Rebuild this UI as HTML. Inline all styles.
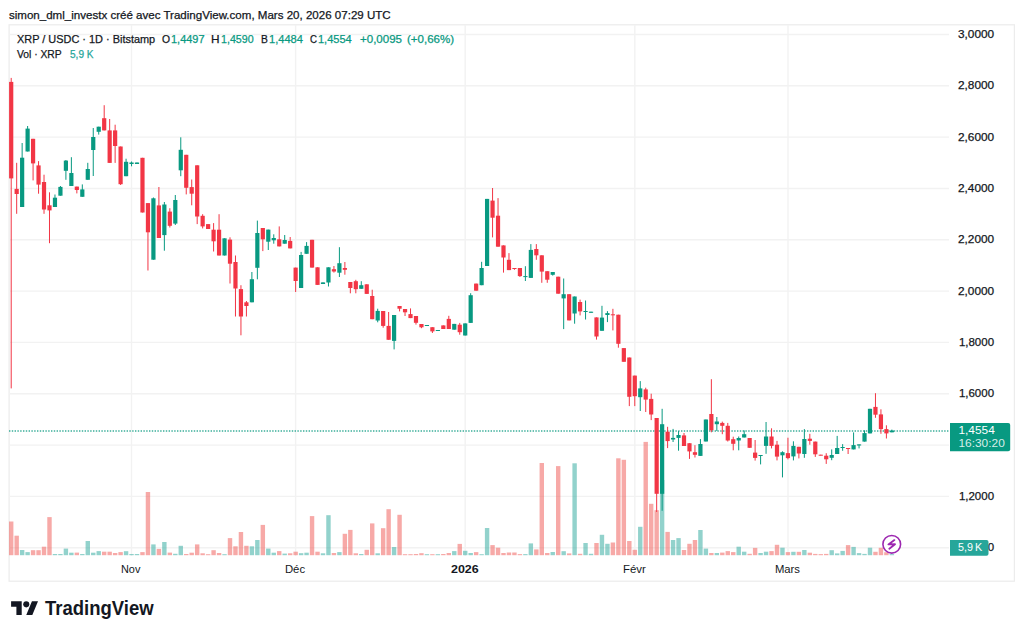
<!DOCTYPE html><html><head><meta charset="utf-8"><style>html,body{margin:0;padding:0;background:#fff;width:1024px;height:636px;overflow:hidden}svg{display:block}text{font-family:"Liberation Sans",sans-serif}</style></head><body>
<svg width="1024" height="636" viewBox="0 0 1024 636">
<rect x="0" y="0" width="1024" height="636" fill="#fff"/>
<rect x="9.1" y="24.8" width="1005.3" height="556.4" fill="none" stroke="#ECECEC" stroke-width="1.2"/>
<line x1="9" y1="34.5" x2="949" y2="34.5" stroke="#F2F2F2" stroke-width="1.4"/>
<line x1="9" y1="85.8" x2="949" y2="85.8" stroke="#F2F2F2" stroke-width="1.4"/>
<line x1="9" y1="137.1" x2="949" y2="137.1" stroke="#F2F2F2" stroke-width="1.4"/>
<line x1="9" y1="188.5" x2="949" y2="188.5" stroke="#F2F2F2" stroke-width="1.4"/>
<line x1="9" y1="239.8" x2="949" y2="239.8" stroke="#F2F2F2" stroke-width="1.4"/>
<line x1="9" y1="291.1" x2="949" y2="291.1" stroke="#F2F2F2" stroke-width="1.4"/>
<line x1="9" y1="342.4" x2="949" y2="342.4" stroke="#F2F2F2" stroke-width="1.4"/>
<line x1="9" y1="393.7" x2="949" y2="393.7" stroke="#F2F2F2" stroke-width="1.4"/>
<line x1="9" y1="445.1" x2="949" y2="445.1" stroke="#F2F2F2" stroke-width="1.4"/>
<line x1="9" y1="496.4" x2="949" y2="496.4" stroke="#F2F2F2" stroke-width="1.4"/>
<line x1="9" y1="547.7" x2="949" y2="547.7" stroke="#F2F2F2" stroke-width="1.4"/>
<line x1="131.5" y1="25" x2="131.5" y2="556" stroke="#F2F2F2" stroke-width="1.4"/>
<line x1="295.6" y1="25" x2="295.6" y2="556" stroke="#F2F2F2" stroke-width="1.4"/>
<line x1="465.2" y1="25" x2="465.2" y2="556" stroke="#F2F2F2" stroke-width="1.4"/>
<line x1="634.8" y1="25" x2="634.8" y2="556" stroke="#F2F2F2" stroke-width="1.4"/>
<line x1="788.0" y1="25" x2="788.0" y2="556" stroke="#F2F2F2" stroke-width="1.4"/>
<rect x="9.00" y="521.5" width="4.4" height="33.7" fill="rgba(239,83,80,0.5)"/>
<rect x="14.47" y="535.7" width="4.4" height="19.5" fill="rgba(239,83,80,0.5)"/>
<rect x="19.94" y="550.0" width="4.4" height="5.2" fill="rgba(38,166,154,0.5)"/>
<rect x="25.41" y="552.1" width="4.4" height="3.1" fill="rgba(38,166,154,0.5)"/>
<rect x="30.88" y="550.2" width="4.4" height="5.0" fill="rgba(239,83,80,0.5)"/>
<rect x="36.35" y="550.2" width="4.4" height="5.0" fill="rgba(239,83,80,0.5)"/>
<rect x="41.82" y="546.7" width="4.4" height="8.5" fill="rgba(239,83,80,0.5)"/>
<rect x="47.29" y="517.1" width="4.4" height="38.1" fill="rgba(239,83,80,0.5)"/>
<rect x="52.76" y="554.0" width="4.4" height="1.2" fill="rgba(38,166,154,0.5)"/>
<rect x="58.23" y="554.0" width="4.4" height="1.2" fill="rgba(38,166,154,0.5)"/>
<rect x="63.70" y="548.6" width="4.4" height="6.6" fill="rgba(38,166,154,0.5)"/>
<rect x="69.17" y="552.7" width="4.4" height="2.5" fill="rgba(38,166,154,0.5)"/>
<rect x="74.64" y="552.6" width="4.4" height="2.6" fill="rgba(239,83,80,0.5)"/>
<rect x="80.11" y="554.0" width="4.4" height="1.2" fill="rgba(38,166,154,0.5)"/>
<rect x="85.58" y="541.0" width="4.4" height="14.2" fill="rgba(38,166,154,0.5)"/>
<rect x="91.05" y="552.7" width="4.4" height="2.5" fill="rgba(38,166,154,0.5)"/>
<rect x="96.52" y="551.1" width="4.4" height="4.1" fill="rgba(38,166,154,0.5)"/>
<rect x="101.99" y="551.7" width="4.4" height="3.5" fill="rgba(239,83,80,0.5)"/>
<rect x="107.46" y="551.7" width="4.4" height="3.5" fill="rgba(239,83,80,0.5)"/>
<rect x="112.93" y="553.0" width="4.4" height="2.2" fill="rgba(239,83,80,0.5)"/>
<rect x="118.40" y="552.1" width="4.4" height="3.1" fill="rgba(239,83,80,0.5)"/>
<rect x="123.87" y="551.2" width="4.4" height="4.0" fill="rgba(38,166,154,0.5)"/>
<rect x="129.34" y="554.0" width="4.4" height="1.2" fill="rgba(38,166,154,0.5)"/>
<rect x="134.81" y="554.0" width="4.4" height="1.2" fill="rgba(38,166,154,0.5)"/>
<rect x="140.28" y="552.1" width="4.4" height="3.1" fill="rgba(239,83,80,0.5)"/>
<rect x="145.75" y="492.0" width="4.4" height="63.2" fill="rgba(239,83,80,0.5)"/>
<rect x="151.22" y="544.4" width="4.4" height="10.8" fill="rgba(38,166,154,0.5)"/>
<rect x="156.69" y="548.9" width="4.4" height="6.3" fill="rgba(239,83,80,0.5)"/>
<rect x="162.16" y="542.0" width="4.4" height="13.2" fill="rgba(38,166,154,0.5)"/>
<rect x="167.63" y="552.6" width="4.4" height="2.6" fill="rgba(239,83,80,0.5)"/>
<rect x="173.10" y="553.8" width="4.4" height="1.4" fill="rgba(38,166,154,0.5)"/>
<rect x="178.57" y="545.8" width="4.4" height="9.4" fill="rgba(38,166,154,0.5)"/>
<rect x="184.04" y="554.0" width="4.4" height="1.2" fill="rgba(239,83,80,0.5)"/>
<rect x="189.51" y="552.7" width="4.4" height="2.5" fill="rgba(239,83,80,0.5)"/>
<rect x="194.98" y="544.4" width="4.4" height="10.8" fill="rgba(239,83,80,0.5)"/>
<rect x="200.45" y="553.3" width="4.4" height="1.9" fill="rgba(239,83,80,0.5)"/>
<rect x="205.92" y="554.2" width="4.4" height="1.0" fill="rgba(239,83,80,0.5)"/>
<rect x="211.39" y="550.2" width="4.4" height="5.0" fill="rgba(239,83,80,0.5)"/>
<rect x="216.86" y="553.0" width="4.4" height="2.2" fill="rgba(239,83,80,0.5)"/>
<rect x="222.33" y="554.2" width="4.4" height="1.0" fill="rgba(38,166,154,0.5)"/>
<rect x="227.80" y="538.1" width="4.4" height="17.1" fill="rgba(239,83,80,0.5)"/>
<rect x="233.27" y="546.3" width="4.4" height="8.9" fill="rgba(239,83,80,0.5)"/>
<rect x="238.74" y="532.0" width="4.4" height="23.2" fill="rgba(239,83,80,0.5)"/>
<rect x="244.21" y="545.8" width="4.4" height="9.4" fill="rgba(239,83,80,0.5)"/>
<rect x="249.68" y="546.3" width="4.4" height="8.9" fill="rgba(38,166,154,0.5)"/>
<rect x="255.15" y="540.0" width="4.4" height="15.2" fill="rgba(38,166,154,0.5)"/>
<rect x="260.62" y="524.9" width="4.4" height="30.3" fill="rgba(239,83,80,0.5)"/>
<rect x="266.09" y="548.6" width="4.4" height="6.6" fill="rgba(38,166,154,0.5)"/>
<rect x="271.56" y="552.7" width="4.4" height="2.5" fill="rgba(38,166,154,0.5)"/>
<rect x="277.03" y="551.1" width="4.4" height="4.1" fill="rgba(239,83,80,0.5)"/>
<rect x="282.50" y="553.6" width="4.4" height="1.6" fill="rgba(38,166,154,0.5)"/>
<rect x="287.97" y="553.3" width="4.4" height="1.9" fill="rgba(239,83,80,0.5)"/>
<rect x="293.44" y="551.7" width="4.4" height="3.5" fill="rgba(239,83,80,0.5)"/>
<rect x="298.91" y="553.2" width="4.4" height="2.0" fill="rgba(38,166,154,0.5)"/>
<rect x="304.38" y="552.7" width="4.4" height="2.5" fill="rgba(38,166,154,0.5)"/>
<rect x="309.85" y="516.1" width="4.4" height="39.1" fill="rgba(239,83,80,0.5)"/>
<rect x="315.32" y="551.7" width="4.4" height="3.5" fill="rgba(239,83,80,0.5)"/>
<rect x="320.79" y="553.3" width="4.4" height="1.9" fill="rgba(38,166,154,0.5)"/>
<rect x="326.26" y="515.2" width="4.4" height="40.0" fill="rgba(38,166,154,0.5)"/>
<rect x="331.73" y="553.0" width="4.4" height="2.2" fill="rgba(239,83,80,0.5)"/>
<rect x="337.20" y="552.1" width="4.4" height="3.1" fill="rgba(38,166,154,0.5)"/>
<rect x="342.67" y="533.8" width="4.4" height="21.4" fill="rgba(239,83,80,0.5)"/>
<rect x="348.14" y="529.9" width="4.4" height="25.3" fill="rgba(239,83,80,0.5)"/>
<rect x="353.61" y="553.3" width="4.4" height="1.9" fill="rgba(239,83,80,0.5)"/>
<rect x="359.08" y="554.0" width="4.4" height="1.2" fill="rgba(38,166,154,0.5)"/>
<rect x="364.55" y="549.8" width="4.4" height="5.4" fill="rgba(239,83,80,0.5)"/>
<rect x="370.02" y="523.4" width="4.4" height="31.8" fill="rgba(239,83,80,0.5)"/>
<rect x="375.49" y="553.3" width="4.4" height="1.9" fill="rgba(38,166,154,0.5)"/>
<rect x="380.96" y="528.2" width="4.4" height="27.0" fill="rgba(239,83,80,0.5)"/>
<rect x="386.43" y="509.2" width="4.4" height="46.0" fill="rgba(239,83,80,0.5)"/>
<rect x="391.90" y="547.0" width="4.4" height="8.2" fill="rgba(38,166,154,0.5)"/>
<rect x="397.37" y="514.8" width="4.4" height="40.4" fill="rgba(239,83,80,0.5)"/>
<rect x="402.84" y="554.2" width="4.4" height="1.0" fill="rgba(239,83,80,0.5)"/>
<rect x="408.31" y="554.2" width="4.4" height="1.0" fill="rgba(239,83,80,0.5)"/>
<rect x="413.78" y="554.0" width="4.4" height="1.2" fill="rgba(239,83,80,0.5)"/>
<rect x="419.25" y="553.2" width="4.4" height="2.0" fill="rgba(239,83,80,0.5)"/>
<rect x="424.72" y="554.2" width="4.4" height="1.0" fill="rgba(38,166,154,0.5)"/>
<rect x="430.19" y="554.2" width="4.4" height="1.0" fill="rgba(239,83,80,0.5)"/>
<rect x="435.66" y="554.2" width="4.4" height="1.0" fill="rgba(38,166,154,0.5)"/>
<rect x="441.13" y="554.0" width="4.4" height="1.2" fill="rgba(239,83,80,0.5)"/>
<rect x="446.60" y="553.0" width="4.4" height="2.2" fill="rgba(239,83,80,0.5)"/>
<rect x="452.07" y="551.1" width="4.4" height="4.1" fill="rgba(38,166,154,0.5)"/>
<rect x="457.54" y="543.9" width="4.4" height="11.3" fill="rgba(239,83,80,0.5)"/>
<rect x="463.01" y="550.8" width="4.4" height="4.4" fill="rgba(38,166,154,0.5)"/>
<rect x="468.48" y="553.0" width="4.4" height="2.2" fill="rgba(38,166,154,0.5)"/>
<rect x="473.95" y="552.1" width="4.4" height="3.1" fill="rgba(239,83,80,0.5)"/>
<rect x="479.42" y="554.2" width="4.4" height="1.0" fill="rgba(38,166,154,0.5)"/>
<rect x="484.89" y="528.0" width="4.4" height="27.2" fill="rgba(38,166,154,0.5)"/>
<rect x="490.36" y="545.1" width="4.4" height="10.1" fill="rgba(239,83,80,0.5)"/>
<rect x="495.83" y="547.7" width="4.4" height="7.5" fill="rgba(239,83,80,0.5)"/>
<rect x="501.30" y="553.0" width="4.4" height="2.2" fill="rgba(239,83,80,0.5)"/>
<rect x="506.77" y="552.5" width="4.4" height="2.7" fill="rgba(239,83,80,0.5)"/>
<rect x="512.24" y="552.5" width="4.4" height="2.7" fill="rgba(239,83,80,0.5)"/>
<rect x="517.71" y="554.1" width="4.4" height="1.1" fill="rgba(239,83,80,0.5)"/>
<rect x="523.18" y="554.1" width="4.4" height="1.1" fill="rgba(38,166,154,0.5)"/>
<rect x="528.65" y="543.4" width="4.4" height="11.8" fill="rgba(38,166,154,0.5)"/>
<rect x="534.12" y="549.4" width="4.4" height="5.8" fill="rgba(239,83,80,0.5)"/>
<rect x="539.59" y="463.0" width="4.4" height="92.2" fill="rgba(239,83,80,0.5)"/>
<rect x="545.06" y="553.0" width="4.4" height="2.2" fill="rgba(239,83,80,0.5)"/>
<rect x="550.53" y="552.0" width="4.4" height="3.2" fill="rgba(38,166,154,0.5)"/>
<rect x="556.00" y="466.1" width="4.4" height="89.1" fill="rgba(239,83,80,0.5)"/>
<rect x="561.47" y="551.2" width="4.4" height="4.0" fill="rgba(38,166,154,0.5)"/>
<rect x="566.94" y="553.4" width="4.4" height="1.8" fill="rgba(239,83,80,0.5)"/>
<rect x="572.41" y="463.3" width="4.4" height="91.9" fill="rgba(38,166,154,0.5)"/>
<rect x="577.88" y="553.8" width="4.4" height="1.4" fill="rgba(239,83,80,0.5)"/>
<rect x="583.35" y="543.0" width="4.4" height="12.2" fill="rgba(38,166,154,0.5)"/>
<rect x="588.82" y="553.8" width="4.4" height="1.4" fill="rgba(38,166,154,0.5)"/>
<rect x="594.29" y="543.0" width="4.4" height="12.2" fill="rgba(239,83,80,0.5)"/>
<rect x="599.76" y="534.8" width="4.4" height="20.4" fill="rgba(38,166,154,0.5)"/>
<rect x="605.23" y="543.8" width="4.4" height="11.4" fill="rgba(38,166,154,0.5)"/>
<rect x="610.70" y="542.5" width="4.4" height="12.7" fill="rgba(239,83,80,0.5)"/>
<rect x="616.17" y="458.3" width="4.4" height="96.9" fill="rgba(239,83,80,0.5)"/>
<rect x="621.64" y="459.8" width="4.4" height="95.4" fill="rgba(239,83,80,0.5)"/>
<rect x="627.11" y="541.0" width="4.4" height="14.2" fill="rgba(239,83,80,0.5)"/>
<rect x="632.58" y="549.8" width="4.4" height="5.4" fill="rgba(239,83,80,0.5)"/>
<rect x="638.05" y="526.8" width="4.4" height="28.4" fill="rgba(38,166,154,0.5)"/>
<rect x="643.52" y="441.9" width="4.4" height="113.3" fill="rgba(239,83,80,0.5)"/>
<rect x="648.99" y="503.8" width="4.4" height="51.4" fill="rgba(239,83,80,0.5)"/>
<rect x="654.46" y="510.2" width="4.4" height="45.0" fill="rgba(239,83,80,0.5)"/>
<rect x="659.93" y="480.0" width="4.4" height="75.2" fill="rgba(38,166,154,0.5)"/>
<rect x="665.40" y="531.9" width="4.4" height="23.3" fill="rgba(239,83,80,0.5)"/>
<rect x="670.87" y="540.0" width="4.4" height="15.2" fill="rgba(38,166,154,0.5)"/>
<rect x="676.34" y="538.1" width="4.4" height="17.1" fill="rgba(38,166,154,0.5)"/>
<rect x="681.81" y="550.0" width="4.4" height="5.2" fill="rgba(239,83,80,0.5)"/>
<rect x="687.28" y="543.8" width="4.4" height="11.4" fill="rgba(239,83,80,0.5)"/>
<rect x="692.75" y="540.0" width="4.4" height="15.2" fill="rgba(239,83,80,0.5)"/>
<rect x="698.22" y="530.0" width="4.4" height="25.2" fill="rgba(38,166,154,0.5)"/>
<rect x="703.69" y="548.6" width="4.4" height="6.6" fill="rgba(38,166,154,0.5)"/>
<rect x="709.16" y="553.0" width="4.4" height="2.2" fill="rgba(239,83,80,0.5)"/>
<rect x="714.63" y="553.0" width="4.4" height="2.2" fill="rgba(38,166,154,0.5)"/>
<rect x="720.10" y="552.6" width="4.4" height="2.6" fill="rgba(239,83,80,0.5)"/>
<rect x="725.57" y="551.1" width="4.4" height="4.1" fill="rgba(239,83,80,0.5)"/>
<rect x="731.04" y="552.1" width="4.4" height="3.1" fill="rgba(239,83,80,0.5)"/>
<rect x="736.51" y="546.7" width="4.4" height="8.5" fill="rgba(38,166,154,0.5)"/>
<rect x="741.98" y="551.7" width="4.4" height="3.5" fill="rgba(38,166,154,0.5)"/>
<rect x="747.45" y="553.8" width="4.4" height="1.4" fill="rgba(239,83,80,0.5)"/>
<rect x="752.92" y="547.9" width="4.4" height="7.3" fill="rgba(239,83,80,0.5)"/>
<rect x="758.39" y="553.0" width="4.4" height="2.2" fill="rgba(38,166,154,0.5)"/>
<rect x="763.86" y="551.7" width="4.4" height="3.5" fill="rgba(38,166,154,0.5)"/>
<rect x="769.33" y="551.1" width="4.4" height="4.1" fill="rgba(239,83,80,0.5)"/>
<rect x="774.80" y="544.8" width="4.4" height="10.4" fill="rgba(239,83,80,0.5)"/>
<rect x="780.27" y="547.7" width="4.4" height="7.5" fill="rgba(38,166,154,0.5)"/>
<rect x="785.74" y="552.1" width="4.4" height="3.1" fill="rgba(239,83,80,0.5)"/>
<rect x="791.21" y="551.8" width="4.4" height="3.4" fill="rgba(38,166,154,0.5)"/>
<rect x="796.68" y="551.8" width="4.4" height="3.4" fill="rgba(239,83,80,0.5)"/>
<rect x="802.15" y="550.0" width="4.4" height="5.2" fill="rgba(38,166,154,0.5)"/>
<rect x="807.62" y="552.7" width="4.4" height="2.5" fill="rgba(239,83,80,0.5)"/>
<rect x="813.09" y="553.9" width="4.4" height="1.3" fill="rgba(239,83,80,0.5)"/>
<rect x="818.56" y="554.1" width="4.4" height="1.1" fill="rgba(239,83,80,0.5)"/>
<rect x="824.03" y="553.9" width="4.4" height="1.3" fill="rgba(239,83,80,0.5)"/>
<rect x="829.50" y="550.2" width="4.4" height="5.0" fill="rgba(38,166,154,0.5)"/>
<rect x="834.97" y="553.4" width="4.4" height="1.8" fill="rgba(38,166,154,0.5)"/>
<rect x="840.44" y="550.9" width="4.4" height="4.3" fill="rgba(38,166,154,0.5)"/>
<rect x="845.91" y="545.1" width="4.4" height="10.1" fill="rgba(239,83,80,0.5)"/>
<rect x="851.38" y="546.9" width="4.4" height="8.3" fill="rgba(38,166,154,0.5)"/>
<rect x="856.85" y="553.1" width="4.4" height="2.1" fill="rgba(38,166,154,0.5)"/>
<rect x="862.32" y="553.9" width="4.4" height="1.3" fill="rgba(38,166,154,0.5)"/>
<rect x="867.79" y="547.7" width="4.4" height="7.5" fill="rgba(38,166,154,0.5)"/>
<rect x="873.26" y="551.8" width="4.4" height="3.4" fill="rgba(239,83,80,0.5)"/>
<rect x="878.73" y="547.8" width="4.4" height="7.4" fill="rgba(239,83,80,0.5)"/>
<rect x="884.20" y="552.2" width="4.4" height="3.0" fill="rgba(239,83,80,0.5)"/>
<rect x="889.67" y="554.1" width="4.4" height="1.1" fill="rgba(38,166,154,0.5)"/>
<line x1="9" y1="431.0" x2="949" y2="431.0" stroke="#089981" stroke-opacity="0.6" stroke-width="1.8" stroke-dasharray="1.4 1.4"/>
<rect x="10.70" y="77.9" width="1" height="310.5" fill="#F23645"/>
<rect x="9.10" y="81.9" width="4.2" height="96.5" fill="#F23645"/>
<rect x="16.17" y="162.8" width="1" height="51.0" fill="#F23645"/>
<rect x="14.57" y="188.9" width="4.2" height="5.1" fill="#F23645"/>
<rect x="21.64" y="143.0" width="1" height="64.0" fill="#089981"/>
<rect x="20.04" y="157.7" width="4.2" height="49.3" fill="#089981"/>
<rect x="27.11" y="126.0" width="1" height="25.5" fill="#089981"/>
<rect x="25.51" y="128.6" width="4.2" height="22.9" fill="#089981"/>
<rect x="32.58" y="138.8" width="1" height="41.6" fill="#F23645"/>
<rect x="30.98" y="138.8" width="4.2" height="24.6" fill="#F23645"/>
<rect x="38.05" y="161.1" width="1" height="32.6" fill="#F23645"/>
<rect x="36.45" y="165.4" width="4.2" height="19.2" fill="#F23645"/>
<rect x="43.52" y="174.7" width="1" height="39.1" fill="#F23645"/>
<rect x="41.92" y="182.0" width="4.2" height="27.5" fill="#F23645"/>
<rect x="48.99" y="192.3" width="1" height="50.9" fill="#F23645"/>
<rect x="47.39" y="205.3" width="4.2" height="5.1" fill="#F23645"/>
<rect x="54.46" y="194.5" width="1" height="12.5" fill="#089981"/>
<rect x="52.86" y="197.7" width="4.2" height="9.3" fill="#089981"/>
<rect x="59.93" y="186.0" width="1" height="9.7" fill="#089981"/>
<rect x="58.33" y="186.9" width="4.2" height="8.8" fill="#089981"/>
<rect x="65.40" y="160.0" width="1" height="19.8" fill="#089981"/>
<rect x="63.80" y="160.6" width="4.2" height="10.2" fill="#089981"/>
<rect x="70.87" y="157.2" width="1" height="28.8" fill="#089981"/>
<rect x="69.27" y="173.0" width="4.2" height="13.0" fill="#089981"/>
<rect x="76.34" y="186.6" width="1" height="6.8" fill="#F23645"/>
<rect x="74.74" y="186.6" width="4.2" height="3.4" fill="#F23645"/>
<rect x="81.81" y="184.4" width="1" height="12.4" fill="#089981"/>
<rect x="80.21" y="189.4" width="4.2" height="7.4" fill="#089981"/>
<rect x="87.28" y="162.8" width="1" height="17.0" fill="#089981"/>
<rect x="85.68" y="169.0" width="4.2" height="10.8" fill="#089981"/>
<rect x="92.75" y="128.0" width="1" height="48.0" fill="#089981"/>
<rect x="91.15" y="137.0" width="4.2" height="13.0" fill="#089981"/>
<rect x="98.22" y="126.7" width="1" height="7.9" fill="#089981"/>
<rect x="96.62" y="126.7" width="4.2" height="5.1" fill="#089981"/>
<rect x="103.69" y="105.2" width="1" height="25.2" fill="#F23645"/>
<rect x="102.09" y="118.2" width="4.2" height="12.2" fill="#F23645"/>
<rect x="109.16" y="119.0" width="1" height="43.9" fill="#F23645"/>
<rect x="107.56" y="130.4" width="4.2" height="32.5" fill="#F23645"/>
<rect x="114.63" y="124.7" width="1" height="38.2" fill="#F23645"/>
<rect x="113.03" y="130.4" width="4.2" height="15.6" fill="#F23645"/>
<rect x="120.10" y="146.5" width="1" height="38.5" fill="#F23645"/>
<rect x="118.50" y="146.5" width="4.2" height="37.7" fill="#F23645"/>
<rect x="125.57" y="158.7" width="1" height="17.5" fill="#089981"/>
<rect x="123.97" y="161.8" width="4.2" height="14.4" fill="#089981"/>
<rect x="131.04" y="161.5" width="1" height="4.8" fill="#089981"/>
<rect x="129.44" y="162.5" width="4.2" height="1.5" fill="#089981"/>
<rect x="136.51" y="162.5" width="1" height="1.5" fill="#089981"/>
<rect x="134.91" y="162.5" width="4.2" height="1.5" fill="#089981"/>
<rect x="141.98" y="157.8" width="1" height="54.7" fill="#F23645"/>
<rect x="140.38" y="157.8" width="4.2" height="54.7" fill="#F23645"/>
<rect x="147.45" y="203.1" width="1" height="67.4" fill="#F23645"/>
<rect x="145.85" y="203.1" width="4.2" height="29.2" fill="#F23645"/>
<rect x="152.92" y="197.5" width="1" height="62.2" fill="#089981"/>
<rect x="151.32" y="198.3" width="4.2" height="61.4" fill="#089981"/>
<rect x="158.39" y="187.0" width="1" height="51.0" fill="#F23645"/>
<rect x="156.79" y="205.4" width="4.2" height="32.6" fill="#F23645"/>
<rect x="163.86" y="202.0" width="1" height="48.7" fill="#089981"/>
<rect x="162.26" y="204.5" width="4.2" height="30.6" fill="#089981"/>
<rect x="169.33" y="208.2" width="1" height="19.3" fill="#F23645"/>
<rect x="167.73" y="211.6" width="4.2" height="14.2" fill="#F23645"/>
<rect x="174.80" y="195.0" width="1" height="30.0" fill="#089981"/>
<rect x="173.20" y="200.0" width="4.2" height="23.6" fill="#089981"/>
<rect x="180.27" y="137.3" width="1" height="38.9" fill="#089981"/>
<rect x="178.67" y="149.8" width="4.2" height="20.5" fill="#089981"/>
<rect x="185.74" y="154.8" width="1" height="39.6" fill="#F23645"/>
<rect x="184.14" y="154.8" width="4.2" height="33.0" fill="#F23645"/>
<rect x="191.21" y="179.5" width="1" height="25.8" fill="#F23645"/>
<rect x="189.61" y="187.1" width="4.2" height="6.6" fill="#F23645"/>
<rect x="196.68" y="165.3" width="1" height="58.8" fill="#F23645"/>
<rect x="195.08" y="165.3" width="4.2" height="51.2" fill="#F23645"/>
<rect x="202.15" y="214.2" width="1" height="14.2" fill="#F23645"/>
<rect x="200.55" y="215.8" width="4.2" height="10.6" fill="#F23645"/>
<rect x="207.62" y="224.1" width="1" height="4.9" fill="#F23645"/>
<rect x="206.02" y="224.1" width="4.2" height="4.9" fill="#F23645"/>
<rect x="213.09" y="223.1" width="1" height="28.4" fill="#F23645"/>
<rect x="211.49" y="229.7" width="4.2" height="11.6" fill="#F23645"/>
<rect x="218.56" y="214.2" width="1" height="41.3" fill="#F23645"/>
<rect x="216.96" y="229.7" width="4.2" height="25.8" fill="#F23645"/>
<rect x="224.03" y="238.3" width="1" height="17.2" fill="#089981"/>
<rect x="222.43" y="238.3" width="4.2" height="17.2" fill="#089981"/>
<rect x="229.50" y="237.3" width="1" height="46.2" fill="#F23645"/>
<rect x="227.90" y="239.6" width="4.2" height="24.1" fill="#F23645"/>
<rect x="234.97" y="255.5" width="1" height="61.0" fill="#F23645"/>
<rect x="233.37" y="262.0" width="4.2" height="26.5" fill="#F23645"/>
<rect x="240.44" y="285.2" width="1" height="50.1" fill="#F23645"/>
<rect x="238.84" y="289.1" width="4.2" height="27.4" fill="#F23645"/>
<rect x="245.91" y="301.0" width="1" height="15.5" fill="#F23645"/>
<rect x="244.31" y="302.3" width="4.2" height="3.7" fill="#F23645"/>
<rect x="251.38" y="272.0" width="1" height="30.3" fill="#089981"/>
<rect x="249.78" y="279.2" width="4.2" height="23.1" fill="#089981"/>
<rect x="256.85" y="220.6" width="1" height="58.7" fill="#089981"/>
<rect x="255.25" y="233.0" width="4.2" height="34.8" fill="#089981"/>
<rect x="262.32" y="228.0" width="1" height="23.1" fill="#F23645"/>
<rect x="260.72" y="228.0" width="4.2" height="11.3" fill="#F23645"/>
<rect x="267.79" y="229.6" width="1" height="20.4" fill="#089981"/>
<rect x="266.19" y="229.6" width="4.2" height="12.1" fill="#089981"/>
<rect x="273.26" y="234.3" width="1" height="9.4" fill="#089981"/>
<rect x="271.66" y="238.0" width="4.2" height="2.3" fill="#089981"/>
<rect x="278.73" y="226.4" width="1" height="20.0" fill="#F23645"/>
<rect x="277.13" y="239.3" width="4.2" height="7.1" fill="#F23645"/>
<rect x="284.20" y="235.0" width="1" height="8.7" fill="#089981"/>
<rect x="282.60" y="240.0" width="4.2" height="3.7" fill="#089981"/>
<rect x="289.67" y="237.0" width="1" height="11.4" fill="#F23645"/>
<rect x="288.07" y="240.9" width="4.2" height="7.5" fill="#F23645"/>
<rect x="295.14" y="267.6" width="1" height="24.4" fill="#F23645"/>
<rect x="293.54" y="267.6" width="4.2" height="13.4" fill="#F23645"/>
<rect x="300.61" y="251.9" width="1" height="36.1" fill="#089981"/>
<rect x="299.01" y="255.0" width="4.2" height="33.0" fill="#089981"/>
<rect x="306.08" y="242.1" width="1" height="11.7" fill="#089981"/>
<rect x="304.48" y="245.9" width="4.2" height="7.9" fill="#089981"/>
<rect x="311.55" y="239.8" width="1" height="27.8" fill="#F23645"/>
<rect x="309.95" y="239.8" width="4.2" height="27.8" fill="#F23645"/>
<rect x="317.02" y="267.3" width="1" height="17.6" fill="#F23645"/>
<rect x="315.42" y="267.3" width="4.2" height="17.6" fill="#F23645"/>
<rect x="322.49" y="282.4" width="1" height="1.6" fill="#089981"/>
<rect x="320.89" y="282.4" width="4.2" height="1.6" fill="#089981"/>
<rect x="327.96" y="267.3" width="1" height="19.2" fill="#089981"/>
<rect x="326.36" y="267.3" width="4.2" height="15.2" fill="#089981"/>
<rect x="333.43" y="266.0" width="1" height="6.6" fill="#F23645"/>
<rect x="331.83" y="269.2" width="4.2" height="2.3" fill="#F23645"/>
<rect x="338.90" y="247.2" width="1" height="29.8" fill="#089981"/>
<rect x="337.30" y="263.2" width="4.2" height="9.5" fill="#089981"/>
<rect x="344.37" y="262.0" width="1" height="12.7" fill="#F23645"/>
<rect x="342.77" y="268.0" width="4.2" height="1.8" fill="#F23645"/>
<rect x="349.84" y="282.0" width="1" height="11.3" fill="#F23645"/>
<rect x="348.24" y="282.0" width="4.2" height="6.0" fill="#F23645"/>
<rect x="355.31" y="279.8" width="1" height="13.5" fill="#F23645"/>
<rect x="353.71" y="281.2" width="4.2" height="8.0" fill="#F23645"/>
<rect x="360.78" y="281.2" width="1" height="7.6" fill="#089981"/>
<rect x="359.18" y="285.2" width="4.2" height="3.6" fill="#089981"/>
<rect x="366.25" y="284.3" width="1" height="9.6" fill="#F23645"/>
<rect x="364.65" y="284.3" width="4.2" height="9.6" fill="#F23645"/>
<rect x="371.72" y="289.7" width="1" height="29.5" fill="#F23645"/>
<rect x="370.12" y="296.0" width="4.2" height="23.2" fill="#F23645"/>
<rect x="377.19" y="308.7" width="1" height="13.6" fill="#089981"/>
<rect x="375.59" y="310.9" width="4.2" height="9.6" fill="#089981"/>
<rect x="382.66" y="311.0" width="1" height="16.7" fill="#F23645"/>
<rect x="381.06" y="311.0" width="4.2" height="14.9" fill="#F23645"/>
<rect x="388.13" y="312.0" width="1" height="27.8" fill="#F23645"/>
<rect x="386.53" y="325.9" width="4.2" height="13.9" fill="#F23645"/>
<rect x="393.60" y="315.0" width="1" height="34.4" fill="#089981"/>
<rect x="392.00" y="315.0" width="4.2" height="25.9" fill="#089981"/>
<rect x="399.07" y="306.0" width="1" height="5.4" fill="#F23645"/>
<rect x="397.47" y="306.0" width="4.2" height="2.7" fill="#F23645"/>
<rect x="404.54" y="309.0" width="1" height="7.0" fill="#F23645"/>
<rect x="402.94" y="309.0" width="4.2" height="3.3" fill="#F23645"/>
<rect x="410.01" y="308.4" width="1" height="9.7" fill="#F23645"/>
<rect x="408.41" y="314.1" width="4.2" height="4.0" fill="#F23645"/>
<rect x="415.48" y="316.0" width="1" height="8.6" fill="#F23645"/>
<rect x="413.88" y="316.0" width="4.2" height="6.8" fill="#F23645"/>
<rect x="420.95" y="324.0" width="1" height="4.2" fill="#F23645"/>
<rect x="419.35" y="324.0" width="4.2" height="3.3" fill="#F23645"/>
<rect x="426.42" y="325.0" width="1" height="1.0" fill="#089981"/>
<rect x="424.82" y="325.0" width="4.2" height="1.0" fill="#089981"/>
<rect x="431.89" y="327.2" width="1" height="5.8" fill="#F23645"/>
<rect x="430.29" y="327.2" width="4.2" height="4.2" fill="#F23645"/>
<rect x="437.36" y="330.0" width="1" height="1.0" fill="#089981"/>
<rect x="435.76" y="330.0" width="4.2" height="1.0" fill="#089981"/>
<rect x="442.83" y="325.4" width="1" height="3.6" fill="#F23645"/>
<rect x="441.23" y="325.4" width="4.2" height="3.6" fill="#F23645"/>
<rect x="448.30" y="315.8" width="1" height="13.2" fill="#F23645"/>
<rect x="446.70" y="318.9" width="4.2" height="10.1" fill="#F23645"/>
<rect x="453.77" y="323.9" width="1" height="5.8" fill="#089981"/>
<rect x="452.17" y="323.9" width="4.2" height="5.8" fill="#089981"/>
<rect x="459.24" y="322.9" width="1" height="11.8" fill="#F23645"/>
<rect x="457.64" y="324.7" width="4.2" height="7.5" fill="#F23645"/>
<rect x="464.71" y="323.4" width="1" height="12.1" fill="#089981"/>
<rect x="463.11" y="323.4" width="4.2" height="12.1" fill="#089981"/>
<rect x="470.18" y="293.2" width="1" height="29.7" fill="#089981"/>
<rect x="468.58" y="295.2" width="4.2" height="27.7" fill="#089981"/>
<rect x="475.65" y="283.6" width="1" height="7.1" fill="#F23645"/>
<rect x="474.05" y="283.6" width="4.2" height="7.1" fill="#F23645"/>
<rect x="481.12" y="261.8" width="1" height="23.4" fill="#089981"/>
<rect x="479.52" y="268.0" width="4.2" height="17.2" fill="#089981"/>
<rect x="486.59" y="198.9" width="1" height="67.1" fill="#089981"/>
<rect x="484.99" y="198.9" width="4.2" height="67.1" fill="#089981"/>
<rect x="492.06" y="188.0" width="1" height="49.4" fill="#F23645"/>
<rect x="490.46" y="200.6" width="4.2" height="17.1" fill="#F23645"/>
<rect x="497.53" y="198.1" width="1" height="48.6" fill="#F23645"/>
<rect x="495.93" y="215.7" width="4.2" height="31.0" fill="#F23645"/>
<rect x="503.00" y="245.4" width="1" height="27.2" fill="#F23645"/>
<rect x="501.40" y="245.4" width="4.2" height="12.1" fill="#F23645"/>
<rect x="508.47" y="253.1" width="1" height="17.0" fill="#F23645"/>
<rect x="506.87" y="259.8" width="4.2" height="10.3" fill="#F23645"/>
<rect x="513.94" y="268.0" width="1" height="1.8" fill="#F23645"/>
<rect x="512.34" y="268.0" width="4.2" height="1.0" fill="#F23645"/>
<rect x="519.41" y="268.0" width="1" height="9.0" fill="#F23645"/>
<rect x="517.81" y="268.0" width="4.2" height="8.1" fill="#F23645"/>
<rect x="524.88" y="266.2" width="1" height="14.8" fill="#089981"/>
<rect x="523.28" y="276.1" width="4.2" height="1.0" fill="#089981"/>
<rect x="530.35" y="244.1" width="1" height="33.8" fill="#089981"/>
<rect x="528.75" y="249.9" width="4.2" height="28.0" fill="#089981"/>
<rect x="535.82" y="244.1" width="1" height="15.7" fill="#F23645"/>
<rect x="534.22" y="249.0" width="4.2" height="6.3" fill="#F23645"/>
<rect x="541.29" y="255.3" width="1" height="27.5" fill="#F23645"/>
<rect x="539.69" y="255.3" width="4.2" height="16.3" fill="#F23645"/>
<rect x="546.76" y="271.2" width="1" height="11.6" fill="#F23645"/>
<rect x="545.16" y="271.2" width="4.2" height="8.5" fill="#F23645"/>
<rect x="552.23" y="272.0" width="1" height="3.6" fill="#089981"/>
<rect x="550.63" y="272.0" width="4.2" height="2.8" fill="#089981"/>
<rect x="557.70" y="276.7" width="1" height="17.0" fill="#F23645"/>
<rect x="556.10" y="276.7" width="4.2" height="17.0" fill="#F23645"/>
<rect x="563.17" y="278.5" width="1" height="50.6" fill="#089981"/>
<rect x="561.57" y="294.2" width="4.2" height="4.2" fill="#089981"/>
<rect x="568.64" y="294.2" width="1" height="26.2" fill="#F23645"/>
<rect x="567.04" y="294.2" width="4.2" height="26.2" fill="#F23645"/>
<rect x="574.11" y="296.5" width="1" height="27.2" fill="#089981"/>
<rect x="572.51" y="296.5" width="4.2" height="17.0" fill="#089981"/>
<rect x="579.58" y="299.6" width="1" height="15.8" fill="#F23645"/>
<rect x="577.98" y="302.0" width="4.2" height="9.4" fill="#F23645"/>
<rect x="585.05" y="300.5" width="1" height="19.0" fill="#089981"/>
<rect x="583.45" y="311.0" width="4.2" height="1.0" fill="#089981"/>
<rect x="590.52" y="311.7" width="1" height="1.1" fill="#089981"/>
<rect x="588.92" y="311.7" width="4.2" height="1.1" fill="#089981"/>
<rect x="595.99" y="317.4" width="1" height="22.2" fill="#F23645"/>
<rect x="594.39" y="317.4" width="4.2" height="19.1" fill="#F23645"/>
<rect x="601.46" y="305.8" width="1" height="25.0" fill="#089981"/>
<rect x="599.86" y="317.6" width="4.2" height="13.2" fill="#089981"/>
<rect x="606.93" y="311.1" width="1" height="11.0" fill="#089981"/>
<rect x="605.33" y="313.1" width="4.2" height="1.9" fill="#089981"/>
<rect x="612.40" y="308.8" width="1" height="21.6" fill="#F23645"/>
<rect x="610.80" y="314.3" width="4.2" height="1.0" fill="#F23645"/>
<rect x="617.87" y="314.7" width="1" height="33.0" fill="#F23645"/>
<rect x="616.27" y="314.7" width="4.2" height="29.1" fill="#F23645"/>
<rect x="623.34" y="348.1" width="1" height="13.7" fill="#F23645"/>
<rect x="621.74" y="348.1" width="4.2" height="13.7" fill="#F23645"/>
<rect x="628.81" y="357.5" width="1" height="48.6" fill="#F23645"/>
<rect x="627.21" y="357.5" width="4.2" height="39.3" fill="#F23645"/>
<rect x="634.28" y="375.6" width="1" height="30.5" fill="#F23645"/>
<rect x="632.68" y="375.6" width="4.2" height="20.6" fill="#F23645"/>
<rect x="639.75" y="381.1" width="1" height="29.9" fill="#089981"/>
<rect x="638.15" y="388.4" width="4.2" height="8.8" fill="#089981"/>
<rect x="645.22" y="387.7" width="1" height="24.3" fill="#F23645"/>
<rect x="643.62" y="389.4" width="4.2" height="10.2" fill="#F23645"/>
<rect x="650.69" y="393.7" width="1" height="26.4" fill="#F23645"/>
<rect x="649.09" y="398.9" width="4.2" height="15.6" fill="#F23645"/>
<rect x="656.16" y="418.0" width="1" height="94.0" fill="#F23645"/>
<rect x="654.56" y="418.0" width="4.2" height="75.8" fill="#F23645"/>
<rect x="661.63" y="408.8" width="1" height="102.0" fill="#089981"/>
<rect x="660.03" y="424.2" width="4.2" height="69.6" fill="#089981"/>
<rect x="667.10" y="426.8" width="1" height="21.3" fill="#F23645"/>
<rect x="665.50" y="431.7" width="4.2" height="9.4" fill="#F23645"/>
<rect x="672.57" y="428.9" width="1" height="13.1" fill="#089981"/>
<rect x="670.97" y="437.9" width="4.2" height="1.6" fill="#089981"/>
<rect x="678.04" y="431.0" width="1" height="19.7" fill="#089981"/>
<rect x="676.44" y="435.0" width="4.2" height="2.9" fill="#089981"/>
<rect x="683.51" y="433.0" width="1" height="13.0" fill="#F23645"/>
<rect x="681.91" y="435.4" width="4.2" height="10.6" fill="#F23645"/>
<rect x="688.98" y="443.2" width="1" height="15.7" fill="#F23645"/>
<rect x="687.38" y="443.2" width="4.2" height="8.2" fill="#F23645"/>
<rect x="694.45" y="445.2" width="1" height="12.3" fill="#F23645"/>
<rect x="692.85" y="452.2" width="4.2" height="2.6" fill="#F23645"/>
<rect x="699.92" y="439.1" width="1" height="16.8" fill="#089981"/>
<rect x="698.32" y="444.0" width="4.2" height="11.9" fill="#089981"/>
<rect x="705.39" y="419.5" width="1" height="22.0" fill="#089981"/>
<rect x="703.79" y="419.5" width="4.2" height="22.0" fill="#089981"/>
<rect x="710.86" y="379.2" width="1" height="53.1" fill="#F23645"/>
<rect x="709.26" y="414.0" width="4.2" height="16.3" fill="#F23645"/>
<rect x="716.33" y="417.0" width="1" height="14.0" fill="#089981"/>
<rect x="714.73" y="421.5" width="4.2" height="2.7" fill="#089981"/>
<rect x="721.80" y="421.6" width="1" height="12.6" fill="#F23645"/>
<rect x="720.20" y="422.9" width="4.2" height="2.9" fill="#F23645"/>
<rect x="727.27" y="422.9" width="1" height="18.6" fill="#F23645"/>
<rect x="725.67" y="425.8" width="4.2" height="14.7" fill="#F23645"/>
<rect x="732.74" y="436.7" width="1" height="13.6" fill="#F23645"/>
<rect x="731.14" y="439.2" width="4.2" height="4.6" fill="#F23645"/>
<rect x="738.21" y="436.5" width="1" height="13.8" fill="#089981"/>
<rect x="736.61" y="438.0" width="4.2" height="2.5" fill="#089981"/>
<rect x="743.68" y="430.4" width="1" height="7.1" fill="#089981"/>
<rect x="742.08" y="434.2" width="4.2" height="3.3" fill="#089981"/>
<rect x="749.15" y="438.0" width="1" height="9.8" fill="#F23645"/>
<rect x="747.55" y="438.0" width="4.2" height="9.8" fill="#F23645"/>
<rect x="754.62" y="440.0" width="1" height="20.6" fill="#F23645"/>
<rect x="753.02" y="452.6" width="4.2" height="5.3" fill="#F23645"/>
<rect x="760.09" y="455.0" width="1" height="9.4" fill="#089981"/>
<rect x="758.49" y="455.0" width="4.2" height="1.0" fill="#089981"/>
<rect x="765.56" y="422.0" width="1" height="31.8" fill="#089981"/>
<rect x="763.96" y="436.5" width="4.2" height="9.4" fill="#089981"/>
<rect x="771.03" y="428.3" width="1" height="20.1" fill="#F23645"/>
<rect x="769.43" y="436.5" width="4.2" height="9.4" fill="#F23645"/>
<rect x="776.50" y="440.9" width="1" height="19.5" fill="#F23645"/>
<rect x="774.90" y="444.7" width="4.2" height="11.9" fill="#F23645"/>
<rect x="781.97" y="451.3" width="1" height="26.1" fill="#089981"/>
<rect x="780.37" y="452.2" width="4.2" height="3.1" fill="#089981"/>
<rect x="787.44" y="437.7" width="1" height="21.7" fill="#F23645"/>
<rect x="785.84" y="453.1" width="4.2" height="5.0" fill="#F23645"/>
<rect x="792.91" y="441.3" width="1" height="19.1" fill="#089981"/>
<rect x="791.31" y="445.9" width="4.2" height="10.5" fill="#089981"/>
<rect x="798.38" y="446.8" width="1" height="11.6" fill="#F23645"/>
<rect x="796.78" y="446.8" width="4.2" height="6.7" fill="#F23645"/>
<rect x="803.85" y="429.1" width="1" height="28.7" fill="#089981"/>
<rect x="802.25" y="439.0" width="4.2" height="15.0" fill="#089981"/>
<rect x="809.32" y="433.8" width="1" height="10.9" fill="#F23645"/>
<rect x="807.72" y="438.7" width="4.2" height="2.2" fill="#F23645"/>
<rect x="814.79" y="441.6" width="1" height="15.3" fill="#F23645"/>
<rect x="813.19" y="441.6" width="4.2" height="12.7" fill="#F23645"/>
<rect x="820.26" y="454.7" width="1" height="0.7" fill="#F23645"/>
<rect x="818.66" y="454.7" width="4.2" height="1.0" fill="#F23645"/>
<rect x="825.73" y="453.2" width="1" height="10.7" fill="#F23645"/>
<rect x="824.13" y="455.7" width="4.2" height="3.6" fill="#F23645"/>
<rect x="831.20" y="449.4" width="1" height="10.8" fill="#089981"/>
<rect x="829.60" y="455.0" width="4.2" height="2.8" fill="#089981"/>
<rect x="836.67" y="435.9" width="1" height="18.1" fill="#089981"/>
<rect x="835.07" y="448.0" width="4.2" height="6.0" fill="#089981"/>
<rect x="842.14" y="444.1" width="1" height="6.7" fill="#089981"/>
<rect x="840.54" y="447.0" width="4.2" height="1.0" fill="#089981"/>
<rect x="847.61" y="448.0" width="1" height="6.0" fill="#F23645"/>
<rect x="846.01" y="448.0" width="4.2" height="1.0" fill="#F23645"/>
<rect x="853.08" y="432.4" width="1" height="17.0" fill="#089981"/>
<rect x="851.48" y="445.1" width="4.2" height="4.3" fill="#089981"/>
<rect x="858.55" y="444.4" width="1" height="4.0" fill="#089981"/>
<rect x="856.95" y="444.4" width="4.2" height="1.1" fill="#089981"/>
<rect x="864.02" y="430.3" width="1" height="11.3" fill="#089981"/>
<rect x="862.42" y="433.1" width="4.2" height="8.5" fill="#089981"/>
<rect x="869.49" y="408.8" width="1" height="24.6" fill="#089981"/>
<rect x="867.89" y="408.8" width="4.2" height="24.6" fill="#089981"/>
<rect x="874.96" y="393.2" width="1" height="24.6" fill="#F23645"/>
<rect x="873.36" y="406.9" width="4.2" height="7.8" fill="#F23645"/>
<rect x="880.43" y="409.3" width="1" height="24.5" fill="#F23645"/>
<rect x="878.83" y="414.4" width="4.2" height="14.7" fill="#F23645"/>
<rect x="885.90" y="425.3" width="1" height="13.2" fill="#F23645"/>
<rect x="884.30" y="429.1" width="4.2" height="4.3" fill="#F23645"/>
<rect x="891.37" y="429.6" width="1" height="2.7" fill="#089981"/>
<rect x="889.77" y="430.5" width="4.2" height="1.8" fill="#089981"/>
<path d="M950 423 H1008.2 A2 2 0 0 1 1010.2 425 V449.3 A2 2 0 0 1 1008.2 451.3 H950 Z" fill="#089981"/>
<text id="p10" y="551.30" font-size="11" fill="#131722" stroke="#131722" stroke-width="0.25" x="958.92" textLength="35.13" lengthAdjust="spacingAndGlyphs">1,0000</text>
<path d="M950 540.1 H986.5 A2 2 0 0 1 988.5 542.1 V553.7 A2 2 0 0 1 986.5 555.7 H950 Z" fill="#26A69A"/>
<circle cx="891.75" cy="544.3" r="8.85" fill="#fff" stroke="#9C27B0" stroke-width="1.6"/>
<path d="M894.4 540.1 L888.4 544.4 L895.0 544.2 L889.3 548.7" fill="none" stroke="#9C27B0" stroke-width="1.8" stroke-linecap="round" stroke-linejoin="round"/>
<g transform="translate(11.1,598.3) scale(0.758)" fill="#131722"><path d="M14 22H7V11H0V4h14v18zM28 22h-8l7.5-18h8L28 22z"/><circle cx="20" cy="8" r="4"/></g>
<text id="hdr" y="18.50" font-size="11" fill="#131722" stroke="#131722" stroke-width="0.25" x="8.97" textLength="381.73" lengthAdjust="spacingAndGlyphs">simon_dml_investx créé avec TradingView.com, Mars 20, 2026 07:29 UTC</text>
<text id="lg1" y="42.90" font-size="11" fill="#131722" stroke="#131722" stroke-width="0.25" x="17.00" textLength="138.17" lengthAdjust="spacingAndGlyphs">XRP / USDC · 1D · Bitstamp</text>
<text id="lgO" y="42.90" font-size="11" fill="#131722" stroke="#131722" stroke-width="0.25" x="162.00" textLength="8.06" lengthAdjust="spacingAndGlyphs">O</text>
<text id="lgOv" y="42.90" font-size="11" fill="#089981" stroke="#089981" stroke-width="0.25" x="170.99" textLength="33.57" lengthAdjust="spacingAndGlyphs">1,4497</text>
<text id="lgH" y="42.90" font-size="11" fill="#131722" stroke="#131722" stroke-width="0.25" x="210.99" textLength="8.55" lengthAdjust="spacingAndGlyphs">H</text>
<text id="lgHv" y="42.90" font-size="11" fill="#089981" stroke="#089981" stroke-width="0.25" x="221.00" textLength="32.67" lengthAdjust="spacingAndGlyphs">1,4590</text>
<text id="lgB" y="42.90" font-size="11" fill="#131722" stroke="#131722" stroke-width="0.25" x="260.90" textLength="6.87" lengthAdjust="spacingAndGlyphs">B</text>
<text id="lgBv" y="42.90" font-size="11" fill="#089981" stroke="#089981" stroke-width="0.25" x="268.97" textLength="33.99" lengthAdjust="spacingAndGlyphs">1,4484</text>
<text id="lgC" y="42.90" font-size="11" fill="#131722" stroke="#131722" stroke-width="0.25" x="310.04" textLength="6.99" lengthAdjust="spacingAndGlyphs">C</text>
<text id="lgCv" y="42.90" font-size="11" fill="#089981" stroke="#089981" stroke-width="0.25" x="317.96" textLength="33.83" lengthAdjust="spacingAndGlyphs">1,4554</text>
<text id="lgch" y="42.90" font-size="11" fill="#089981" stroke="#089981" stroke-width="0.25" x="360.00" textLength="42.02" lengthAdjust="spacingAndGlyphs">+0,0095</text>
<text id="lgpc" y="42.90" font-size="11" fill="#089981" stroke="#089981" stroke-width="0.25" x="407.00" textLength="47.06" lengthAdjust="spacingAndGlyphs">(+0,66%)</text>
<text id="vol" y="57.80" font-size="11" fill="#131722" stroke="#131722" stroke-width="0.25" x="17.00" textLength="44.69" lengthAdjust="spacingAndGlyphs">Vol · XRP</text>
<text id="volv" y="57.80" font-size="11" fill="#26A69A" stroke="#26A69A" stroke-width="0.25" x="70.00" textLength="23.55" lengthAdjust="spacingAndGlyphs">5,9 K</text>
<text id="tNov" y="573.10" font-size="11" fill="#131722" x="120.94" textLength="19.41" lengthAdjust="spacingAndGlyphs">Nov</text>
<text id="tDec" y="573.10" font-size="11" fill="#131722" x="284.93" textLength="20.13" lengthAdjust="spacingAndGlyphs">Déc</text>
<text id="t2026" y="573.10" font-size="11" fill="#131722" font-weight="bold" x="451.00" textLength="27.76" lengthAdjust="spacingAndGlyphs">2026</text>
<text id="tFev" y="573.10" font-size="11" fill="#131722" x="622.96" textLength="22.83" lengthAdjust="spacingAndGlyphs">Févr</text>
<text id="tMar" y="573.10" font-size="11" fill="#131722" x="774.94" textLength="25.04" lengthAdjust="spacingAndGlyphs">Mars</text>
<text id="pl1" y="433.75" font-size="11" fill="#fff" x="958.45" textLength="36.32" lengthAdjust="spacingAndGlyphs">1,4554</text>
<text id="pl2" y="446.60" font-size="11" fill="#fff" x="958.46" textLength="46.31" lengthAdjust="spacingAndGlyphs" fill-opacity="0.85">16:30:20</text>
<text id="vl" y="550.90" font-size="11" fill="#fff" x="957.89" textLength="24.39" lengthAdjust="spacingAndGlyphs">5,9 K</text>
<text id="logo" y="614.90" font-size="19.4" fill="#131722" font-weight="bold" x="44.99" textLength="108.62" lengthAdjust="spacingAndGlyphs">TradingView</text>
<text id="p0" y="38.10" font-size="11" fill="#131722" stroke="#131722" stroke-width="0.25" x="958.00" textLength="36.16" lengthAdjust="spacingAndGlyphs">3,0000</text>
<text id="p1" y="89.42" font-size="11" fill="#131722" stroke="#131722" stroke-width="0.25" x="958.00" textLength="36.16" lengthAdjust="spacingAndGlyphs">2,8000</text>
<text id="p2" y="140.74" font-size="11" fill="#131722" stroke="#131722" stroke-width="0.25" x="958.00" textLength="36.16" lengthAdjust="spacingAndGlyphs">2,6000</text>
<text id="p3" y="192.06" font-size="11" fill="#131722" stroke="#131722" stroke-width="0.25" x="958.00" textLength="36.16" lengthAdjust="spacingAndGlyphs">2,4000</text>
<text id="p4" y="243.38" font-size="11" fill="#131722" stroke="#131722" stroke-width="0.25" x="958.00" textLength="36.16" lengthAdjust="spacingAndGlyphs">2,2000</text>
<text id="p5" y="294.70" font-size="11" fill="#131722" stroke="#131722" stroke-width="0.25" x="958.00" textLength="36.16" lengthAdjust="spacingAndGlyphs">2,0000</text>
<text id="p6" y="346.02" font-size="11" fill="#131722" stroke="#131722" stroke-width="0.25" x="958.92" textLength="35.13" lengthAdjust="spacingAndGlyphs">1,8000</text>
<text id="p7" y="397.34" font-size="11" fill="#131722" stroke="#131722" stroke-width="0.25" x="958.92" textLength="35.13" lengthAdjust="spacingAndGlyphs">1,6000</text>
<text id="p9" y="499.98" font-size="11" fill="#131722" stroke="#131722" stroke-width="0.25" x="958.92" textLength="35.13" lengthAdjust="spacingAndGlyphs">1,2000</text>
</svg></body></html>
